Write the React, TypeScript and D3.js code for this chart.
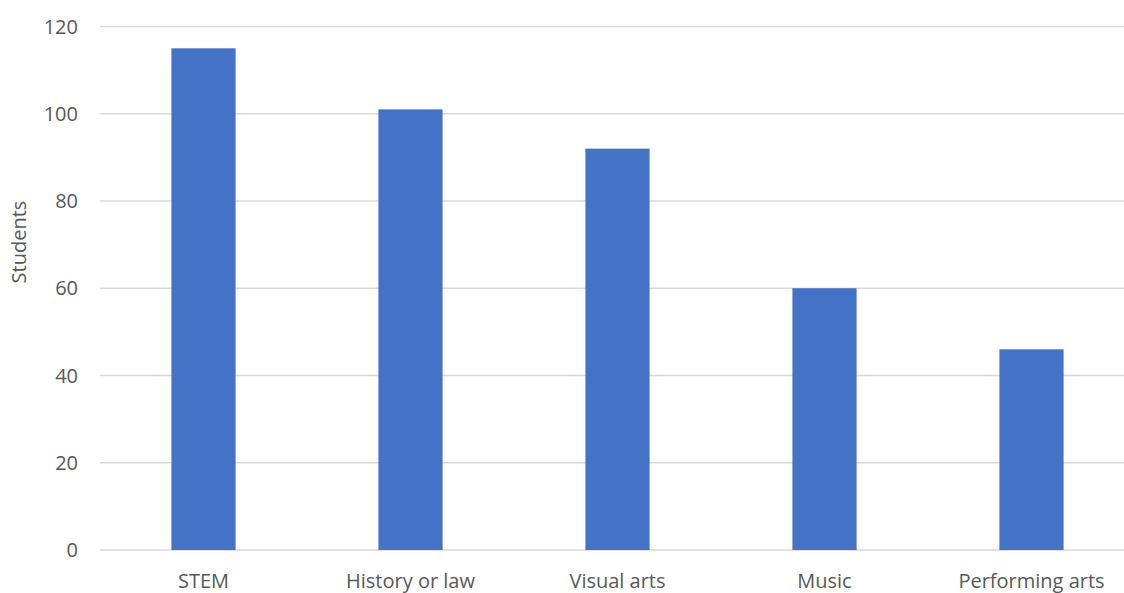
import { useEffect, useRef } from 'react';
import * as d3 from 'd3';

const categories = ['STEM', 'History or law', 'Visual arts', 'Music', 'Performing arts'];
const students = [115, 101, 92, 60, 46];
const yTicks = [0, 20, 40, 60, 80, 100, 120];

const width = 1124;
const height = 593;

const App = () => {
    const chartRef = useRef<SVGSVGElement | null>(null);

    useEffect(() => {
        const svg = d3.select(chartRef.current);
        svg.selectAll('*').remove();

        const font = "'Open Sans', sans-serif";
        const textColour = '#595959';

        // plot area runs past the right edge, like the cropped original
        const xScale = d3.scaleBand<string>()
            .domain(categories)
            .range([100, 1135])
            .paddingInner(0.69)
            .paddingOuter(0.345);

        const yScale = d3.scaleLinear()
            .domain([0, 120])
            .range([550, 26.5]);

        svg.append('g')
            .selectAll('line')
            .data(yTicks)
            .join('line')
            .attr('x1', 100)
            .attr('x2', 1135)
            .attr('y1', d => yScale(d))
            .attr('y2', d => yScale(d))
            .attr('stroke', '#d9d9d9')
            .attr('stroke-width', 1.3);

        svg.append('g')
            .selectAll('rect')
            .data(students)
            .join('rect')
            .attr('x', (d, i) => xScale(categories[i]) as number)
            .attr('y', d => yScale(d))
            .attr('width', xScale.bandwidth())
            .attr('height', d => yScale(0) - yScale(d))
            .attr('fill', '#4472c4');

        svg.append('g')
            .selectAll('text')
            .data(yTicks)
            .join('text')
            .attr('x', 78)
            .attr('y', d => yScale(d))
            .attr('dy', '0.35em')
            .attr('text-anchor', 'end')
            .style('font-family', font)
            .style('font-size', '20px')
            .attr('fill', textColour)
            .text(d => d);

        svg.append('g')
            .selectAll('text')
            .data(categories)
            .join('text')
            .attr('x', d => (xScale(d) as number) + xScale.bandwidth() / 2)
            .attr('y', 588)
            .attr('text-anchor', 'middle')
            .style('font-family', font)
            .style('font-size', '20px')
            .attr('fill', textColour)
            .text(d => d);

        svg.append('text')
            .attr('transform', 'translate(26, 242) rotate(-90)')
            .attr('text-anchor', 'middle')
            .style('font-family', font)
            .style('font-size', '20px')
            .attr('fill', textColour)
            .text('Students');
    }, []);

    return (
        <div style={{ position: 'fixed', left: 0, top: 0 }}>
            <svg ref={chartRef} width={width} height={height} style={{ display: 'block', background: '#fff' }}></svg>
        </div>
    );
};

export default App;
